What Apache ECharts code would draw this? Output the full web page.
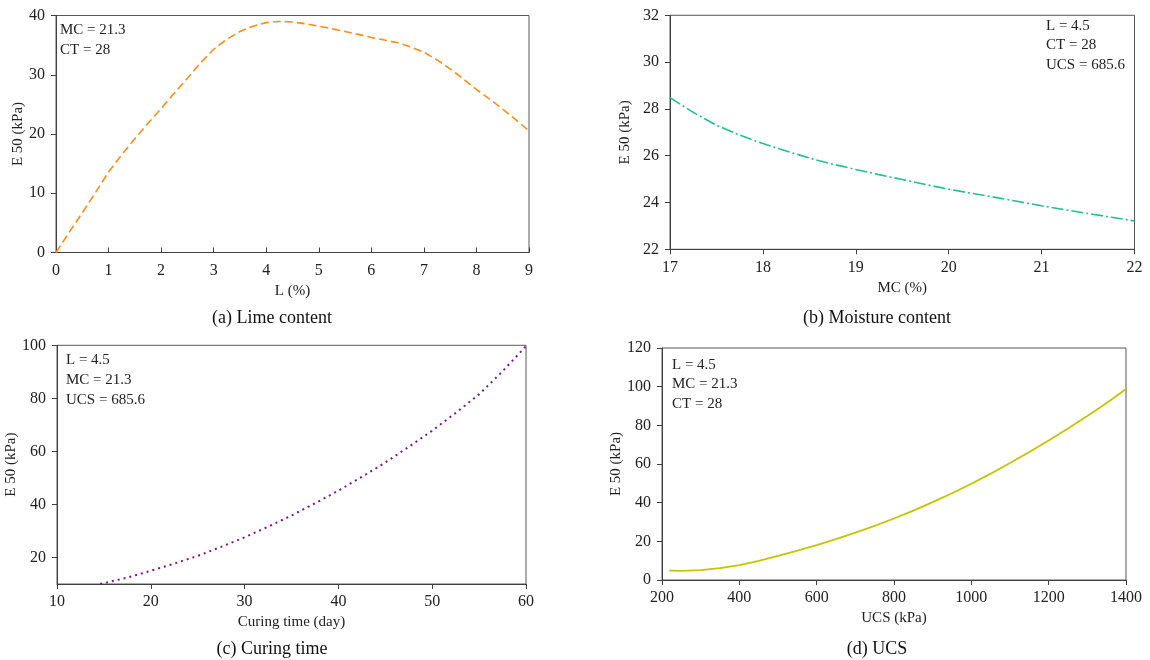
<!DOCTYPE html>
<html>
<head>
<meta charset="utf-8">
<script src="https://cdn.jsdelivr.net/npm/echarts@6/dist/echarts.min.js"></script>
<style>
html,body{margin:0;padding:0;background:#fff;}
#chart{width:1150px;height:660px;}
</style>
</head>
<body>
<div id="chart"></div>
<script>
// (a) Lime content
const limeL = [0, 0.25, 0.5, 0.75, 1, 1.25, 1.5, 1.75, 2, 2.25, 2.5, 2.75, 3, 3.25, 3.5, 3.75, 4, 4.25, 4.5, 4.75, 5, 5.5, 6, 6.5, 6.75, 7, 7.25, 7.5, 7.75, 8, 8.25, 8.5, 8.75, 9];
const limeE = [0, 3.4, 6.7, 10.1, 13.6, 16.5, 19.2, 21.8, 24.3, 26.9, 29.4, 32.0, 34.3, 36.0, 37.3, 38.2, 38.8, 39.0, 38.9, 38.6, 38.2, 37.3, 36.3, 35.4, 34.7, 33.8, 32.5, 31.0, 29.3, 27.5, 25.9, 24.2, 22.4, 20.5];
// (b) Moisture content
const moistMC = [17, 17.25, 17.5, 17.75, 18, 18.25, 18.5, 18.75, 19, 19.25, 19.5, 19.75, 20, 20.25, 20.5, 20.75, 21, 21.25, 21.5, 21.75, 22];
const moistE = [28.48, 27.85, 27.3, 26.88, 26.52, 26.2, 25.9, 25.64, 25.41, 25.19, 24.98, 24.77, 24.57, 24.39, 24.22, 24.04, 23.86, 23.69, 23.53, 23.37, 23.21];
// (c) Curing time
const cureCT = [14.6, 17.5, 20, 22.5, 25, 27.5, 30, 32.5, 35, 37.5, 40, 42.5, 45, 47.5, 50, 52.5, 55, 57.5, 60];
const cureE = [10, 12.4, 15.0, 17.7, 20.6, 24.0, 27.6, 31.6, 35.8, 40.4, 45.2, 50.4, 55.8, 61.7, 67.8, 74.5, 81.5, 90.2, 99.7];
// (d) UCS
const ucsU = [219, 250, 300, 350, 400, 450, 500, 550, 600, 650, 700, 750, 800, 850, 900, 950, 1000, 1050, 1100, 1150, 1200, 1250, 1300, 1350, 1400];
const ucsE = [4.8, 4.7, 5.1, 6.1, 7.7, 9.9, 12.5, 15.2, 18.0, 21.1, 24.5, 28.0, 31.8, 35.9, 40.3, 44.9, 49.8, 55.0, 60.5, 66.2, 72.2, 78.4, 84.8, 91.6, 98.8];

const captions = ['(a) Lime content', '(b) Moisture content', '(c) Curing time', '(d) UCS'];
const xNames = ['L (%)', 'MC (%)', 'Curing time (day)', 'UCS (kPa)'];
const yName = 'E 50 (kPa)';
const notesA = ['MC = 21.3', 'CT = 28'];
const notesB = ['L = 4.5', 'CT = 28', 'UCS = 685.6'];
const notesC = ['L = 4.5', 'MC = 21.3', 'UCS = 685.6'];
const notesD = ['L = 4.5', 'MC = 21.3', 'CT = 28'];
const yTicksC = [20, 40, 60, 80, 100];

const FONT = '"Liberation Serif", "DejaVu Serif", serif';
const TXT = '#222';
const AX = '#404040';

function pairs(xs, ys) { return xs.map((x, i) => [x, ys[i]]); }
const plain = v => String(v);

const grids = [
  {left: 56, top: 15.5, width: 473, height: 237},
  {left: 670, top: 15.3, width: 464.5, height: 234},
  {left: 57, top: 345.3, width: 469, height: 238.7},
  {left: 662, top: 348, width: 464, height: 232}
].map(g => Object.assign({show: true, borderColor: '#595959', borderWidth: 1, backgroundColor: 'transparent'}, g));

function xAx(i, min, max, interval, inside) {
  return {
    type: 'value', gridIndex: i, min: min, max: max, interval: interval,
    name: xNames[i], nameLocation: 'middle', nameGap: 31,
    nameTextStyle: {fontFamily: FONT, fontSize: 15, color: TXT},
    axisLine: {show: true, lineStyle: {color: AX, width: 1}},
    axisTick: {show: true, inside: inside, length: 5, lineStyle: {color: AX}},
    axisLabel: {fontFamily: FONT, fontSize: 16, color: TXT, margin: 10, formatter: plain},
    splitLine: {show: false}
  };
}
function yAx(i, min, max, interval, gap) {
  return {
    type: 'value', gridIndex: i, min: min, max: max, interval: interval,
    name: yName, nameLocation: 'middle', nameGap: gap, nameRotate: 90,
    nameTextStyle: {fontFamily: FONT, fontSize: 15, color: TXT},
    axisLine: {show: true, lineStyle: {color: AX, width: 1}},
    axisTick: {show: true, inside: false, length: 5, lineStyle: {color: AX}},
    axisLabel: {fontFamily: FONT, fontSize: 16, color: TXT, margin: 11, formatter: plain},
    splitLine: {show: false}
  };
}

const xAxes = [
  xAx(0, 0, 9, 1, true),
  xAx(1, 17, 22, 1, false),
  xAx(2, 10, 60, 10, false),
  xAx(3, 200, 1400, 200, false)
];
const yAxes = [
  yAx(0, 0, 40, 10, 29),
  yAx(1, 22, 32, 2, 37),
  yAx(2, 10, 100, 10, 28),
  yAx(3, 0, 120, 20, 27)
];
yAxes[2].axisLabel.customValues = yTicksC;
yAxes[2].axisTick.customValues = yTicksC;

function series(i, data, color, type, width) {
  return {
    type: 'line', xAxisIndex: i, yAxisIndex: i, data: data,
    showSymbol: false, symbol: 'none', smooth: false,
    lineStyle: {color: color, width: width, type: type},
    silent: true, animation: false
  };
}

const graphics = [];
function note(lines, x, y0, step) {
  lines.forEach((t, k) => graphics.push({
    type: 'text', x: x, y: y0 + k * step,
    style: {text: t, font: '15px ' + FONT, fill: TXT, verticalAlign: 'middle', align: 'left'}
  }));
}
note(notesA, 60, 30, 20);
note(notesB, 1046, 26, 19.5);
note(notesC, 66, 360, 20);
note(notesD, 672, 365, 19.5);
const capPos = [[272, 318], [877, 318], [272, 649], [877, 649]];
captions.forEach((c, i) => graphics.push({
  type: 'text', x: capPos[i][0], y: capPos[i][1],
  style: {text: c, font: '18px ' + FONT, fill: '#111', align: 'center', verticalAlign: 'middle'}
}));

const chart = echarts.init(document.getElementById('chart'), null, {renderer: 'canvas'});
chart.setOption({
  animation: false,
  backgroundColor: '#fff',
  grid: grids,
  xAxis: xAxes,
  yAxis: yAxes,
  series: [
    series(0, pairs(limeL, limeE), '#FF8C1A', [8, 4], 1.6),
    series(1, pairs(moistMC, moistE), '#1FC190', [12, 3, 2, 3], 1.6),
    series(2, pairs(cureCT, cureE), '#7A1A7A', [2, 4], 2),
    series(3, pairs(ucsU, ucsE), '#C4C400', 'solid', 1.8)
  ],
  graphic: graphics
});
</script>
</body>
</html>
